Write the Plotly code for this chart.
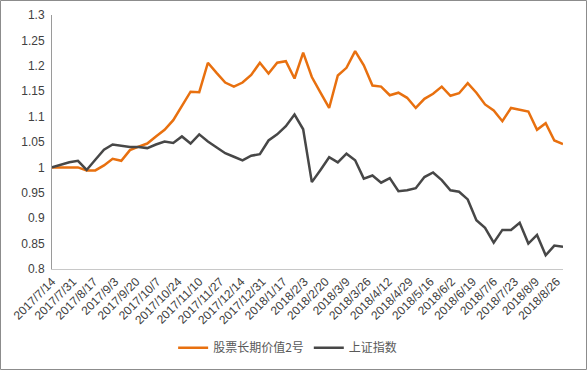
import plotly.graph_objects as go

dates = [
    "2017-07-14", "2017-07-21", "2017-07-28", "2017-08-04", "2017-08-11", "2017-08-18",
    "2017-08-25", "2017-09-01", "2017-09-08", "2017-09-15", "2017-09-22", "2017-09-29",
    "2017-10-06", "2017-10-13", "2017-10-20", "2017-10-27", "2017-11-03", "2017-11-10",
    "2017-11-17", "2017-11-24", "2017-12-01", "2017-12-08", "2017-12-15", "2017-12-22",
    "2017-12-29", "2018-01-05", "2018-01-12", "2018-01-19", "2018-01-26", "2018-02-02",
    "2018-02-09", "2018-02-16", "2018-02-23", "2018-03-02", "2018-03-09", "2018-03-16",
    "2018-03-23", "2018-03-30", "2018-04-06", "2018-04-13", "2018-04-20", "2018-04-27",
    "2018-05-04", "2018-05-11", "2018-05-18", "2018-05-25", "2018-06-01", "2018-06-08",
    "2018-06-15", "2018-06-22", "2018-06-29", "2018-07-06", "2018-07-13", "2018-07-20",
    "2018-07-27", "2018-08-03", "2018-08-10", "2018-08-17", "2018-08-24", "2018-08-31",
]

fund_name = "股票长期价值2号"
fund_values = [
    1.000, 1.000, 1.000, 1.000, 0.994, 0.994, 1.004, 1.017, 1.013, 1.034,
    1.041, 1.047, 1.061, 1.074, 1.093, 1.120, 1.149, 1.148, 1.206, 1.186,
    1.167, 1.159, 1.167, 1.182, 1.206, 1.185, 1.206, 1.209, 1.175, 1.226,
    1.178, 1.147, 1.117, 1.181, 1.196, 1.229, 1.201, 1.161, 1.159, 1.142,
    1.147, 1.137, 1.117, 1.135, 1.145, 1.159, 1.141, 1.146, 1.166, 1.147,
    1.124, 1.112, 1.091, 1.117, 1.114, 1.110, 1.074, 1.087, 1.053, 1.046,
]

index_name = "上证指数"
index_values = [
    1.000, 1.005, 1.010, 1.013, 0.995, 1.015, 1.035, 1.045, 1.043, 1.040,
    1.040, 1.038, 1.045, 1.051, 1.048, 1.061, 1.047, 1.065, 1.051, 1.040,
    1.028, 1.021, 1.014, 1.023, 1.026, 1.053, 1.065, 1.081, 1.104, 1.075,
    0.971, 0.995, 1.020, 1.010, 1.027, 1.014, 0.978, 0.984, 0.970, 0.979,
    0.953, 0.955, 0.959, 0.981, 0.990, 0.975, 0.955, 0.952, 0.937, 0.896,
    0.881, 0.852, 0.877, 0.877, 0.891, 0.850, 0.867, 0.827, 0.846, 0.844,
]

y_min, y_max, y_step = 0.8, 1.3, 0.05
tick_start = "2017-07-14"
tick_days = 17

FONT = "Liberation Sans, Arial, Noto Sans CJK SC, sans-serif"
TXT = "#595959"

fig = go.Figure()
fig.add_trace(go.Scatter(x=dates, y=fund_values, name=fund_name, mode="lines",
                         line=dict(color="#E8700F", width=2.5)))
fig.add_trace(go.Scatter(x=dates, y=index_values, name=index_name, mode="lines",
                         line=dict(color="#474747", width=2.5)))

W, H = 587, 370
ml, mr, mt, mb = 52, 24, 15, 101
pw, ph = W - ml - mr, H - mt - mb

fig.update_layout(
    width=W, height=H,
    margin=dict(l=ml, r=mr, t=mt, b=mb, autoexpand=False),
    paper_bgcolor="white", plot_bgcolor="white",
    font=dict(family=FONT, color=TXT, size=12),
    showlegend=True,
    legend=dict(orientation="h", xref="container", yref="container",
                x=0.49, xanchor="center", y=0.06, yanchor="middle",
                font=dict(size=12, color=TXT, family="Noto Sans CJK SC, sans-serif"),
                itemwidth=30, tracegroupgap=0),
    xaxis=dict(type="date", range=[dates[0], dates[-1]], automargin=False,
               tick0=tick_start, dtick=tick_days * 86400000,
               tickformat="%Y/%-m/%-d", tickangle=-45,
               tickfont=dict(size=12, color="#404040"),
               showgrid=False, zeroline=False, showline=True,
               linecolor="#C8C8C8", linewidth=1, ticks=""),
    yaxis=dict(range=[y_min, y_max], dtick=y_step, tick0=y_min, automargin=False,
               tickfont=dict(size=12, color="#404040"),
               showgrid=False, zeroline=False, showline=True,
               linecolor="#9A9A9A", linewidth=1, ticks="", ticklabelstandoff=4),
    shapes=[dict(type="rect", xref="paper", yref="paper",
                 x0=(0.5 - ml) / pw, x1=(W - 0.5 - ml) / pw,
                 y0=-(mb - 0.5) / ph, y1=1 + (mt - 0.5) / ph,
                 line=dict(color="#8C8C8C", width=1), fillcolor="rgba(0,0,0,0)",
                 layer="above")],
)

fig.write_html("out.html", config={"displayModeBar": False},
               post_script="document.body.style.margin='0';")
